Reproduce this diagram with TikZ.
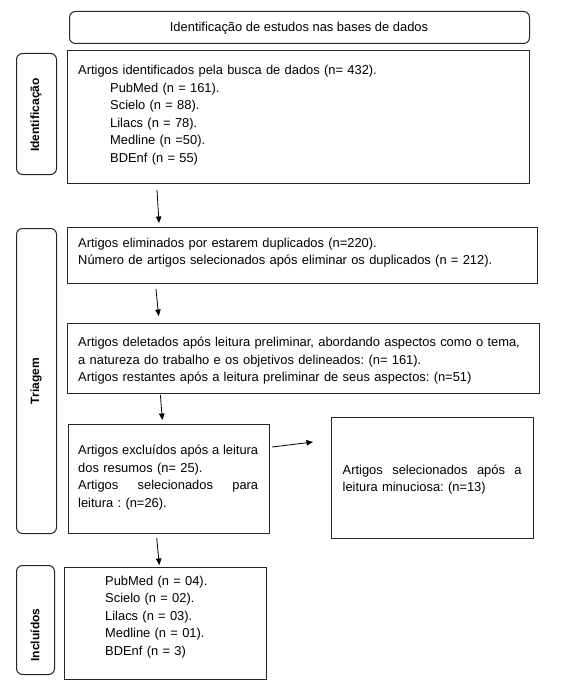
\documentclass[tikz,border=0pt]{standalone}
\usepackage{fontspec}
\setmainfont{Liberation Sans}
\usetikzlibrary{arrows.meta}
\definecolor{lc}{HTML}{262626}
\newcommand{\jline}[2]{\leavevmode\hbox to #1pt{#2}}
\frenchspacing
\begin{document}
\begin{tikzpicture}[x=1pt,y=-1pt,
  box/.style={draw=lc, line width=1pt, inner sep=0pt, anchor=north west},
  rbox/.style={box, rounded corners=6pt},
  txt/.style={anchor=base west, inner sep=0pt, font=\fontsize{12.9}{17.6}\selectfont\frenchspacing, align=left},
  side/.style={rotate=90, inner sep=0pt, font=\fontsize{12}{14}\selectfont\bfseries},
  arr/.style={draw=black, line width=0.8pt, -{Triangle[length=6.5pt,width=5.5pt]}}]
\useasboundingbox (0,0) rectangle (585,682);
% boxes
\node[rbox, minimum width=460pt, minimum height=32pt] (tb) at (69,11) {};
\node[box, minimum width=462pt, minimum height=133pt] (b1) at (67,50) {};
\node[rbox, minimum width=40pt, minimum height=121pt] (s1) at (16,53) {};
\node[box, minimum width=470pt, minimum height=56pt] (b2) at (67,227) {};
\node[box, minimum width=472pt, minimum height=70pt] (b3) at (67,323) {};
\node[rbox, minimum width=40pt, minimum height=305pt] (s2) at (16,228) {};
\node[box, minimum width=201pt, minimum height=109pt] (b4) at (68,424) {};
\node[box, minimum width=202pt, minimum height=121pt] (b5) at (331,417) {};
\node[box, minimum width=202pt, minimum height=112pt] (b6) at (64,567) {};
\node[rbox, minimum width=38pt, minimum height=109pt] (s3) at (16,565) {};
% texts
\node[anchor=base, inner sep=0pt, font=\fontsize{12.9}{17.6}\selectfont] (tt) at (299,31.5) {Identificação de estudos nas bases de dados};
\node[side] (l1) at (36,115) {Identificação};
\node[side] (l2) at (36,381) {Triagem};
\node[side] (l3) at (35,635) {Incluídos};
\node[txt, text width=440pt] (t1) at (78,74.5) {Artigos identificados pela busca de dados (n= 432).\\
\hspace*{32pt}PubMed (n = 161).\\
\hspace*{32pt}Scielo (n = 88).\\
\hspace*{32pt}Lilacs (n = 78).\\
\hspace*{32pt}Medline (n =50).\\
\hspace*{32pt}BDEnf (n = 55)};
\node[txt, text width=455pt] (t2) at (78,247.3) {Artigos eliminados por estarem duplicados (n=220).\\
Número de artigos selecionados após eliminar os duplicados (n = 212).};
\node[txt, text width=460pt] (t3) at (78,346.5) {Artigos deletados após leitura preliminar, abordando aspectos como o tema,\\
a natureza do trabalho e os objetivos delineados: (n= 161).\\
Artigos restantes após a leitura preliminar de seus aspectos: (n=51)};
\node[txt, text width=185pt] (t4) at (78,454.7) {\jline{180}{Artigos\hfill excluídos\hfill após\hfill a\hfill leitura}\\
dos resumos (n= 25).\\
\jline{180}{Artigos\hfill selecionados\hfill para}\\
leitura : (n=26).};
\node[txt, text width=185pt] (t5) at (342.5,474.3) {\jline{179}{Artigos\hfill selecionados\hfill após\hfill a}\\
leitura minuciosa: (n=13)};
\node[txt, text width=150pt] (t6) at (105,585) {PubMed (n = 04).\\
Scielo (n = 02).\\
Lilacs (n = 03).\\
Medline (n = 01).\\
BDEnf (n = 3)};
% arrows
\draw[arr] ([xshift=90pt,yshift=-6pt]b1.south west) -- ([xshift=92pt,yshift=4pt]b2.north west);
\draw[arr] ([xshift=89pt,yshift=-5pt]b2.south west) -- ([xshift=91.6pt,yshift=7pt]b3.north west);
\draw[arr] ([xshift=93.4pt,yshift=-1pt]b3.south west) -- ([xshift=94.3pt,yshift=4pt]b4.north west);
\draw[arr] ([xshift=2pt,yshift=-23pt]b4.north east) -- ([xshift=-18pt,yshift=-25pt]b5.north west);
\draw[arr] ([xshift=88.7pt,yshift=-4pt]b4.south west) -- ([xshift=95.3pt,yshift=2pt]b6.north west);
\end{tikzpicture}
\end{document}
